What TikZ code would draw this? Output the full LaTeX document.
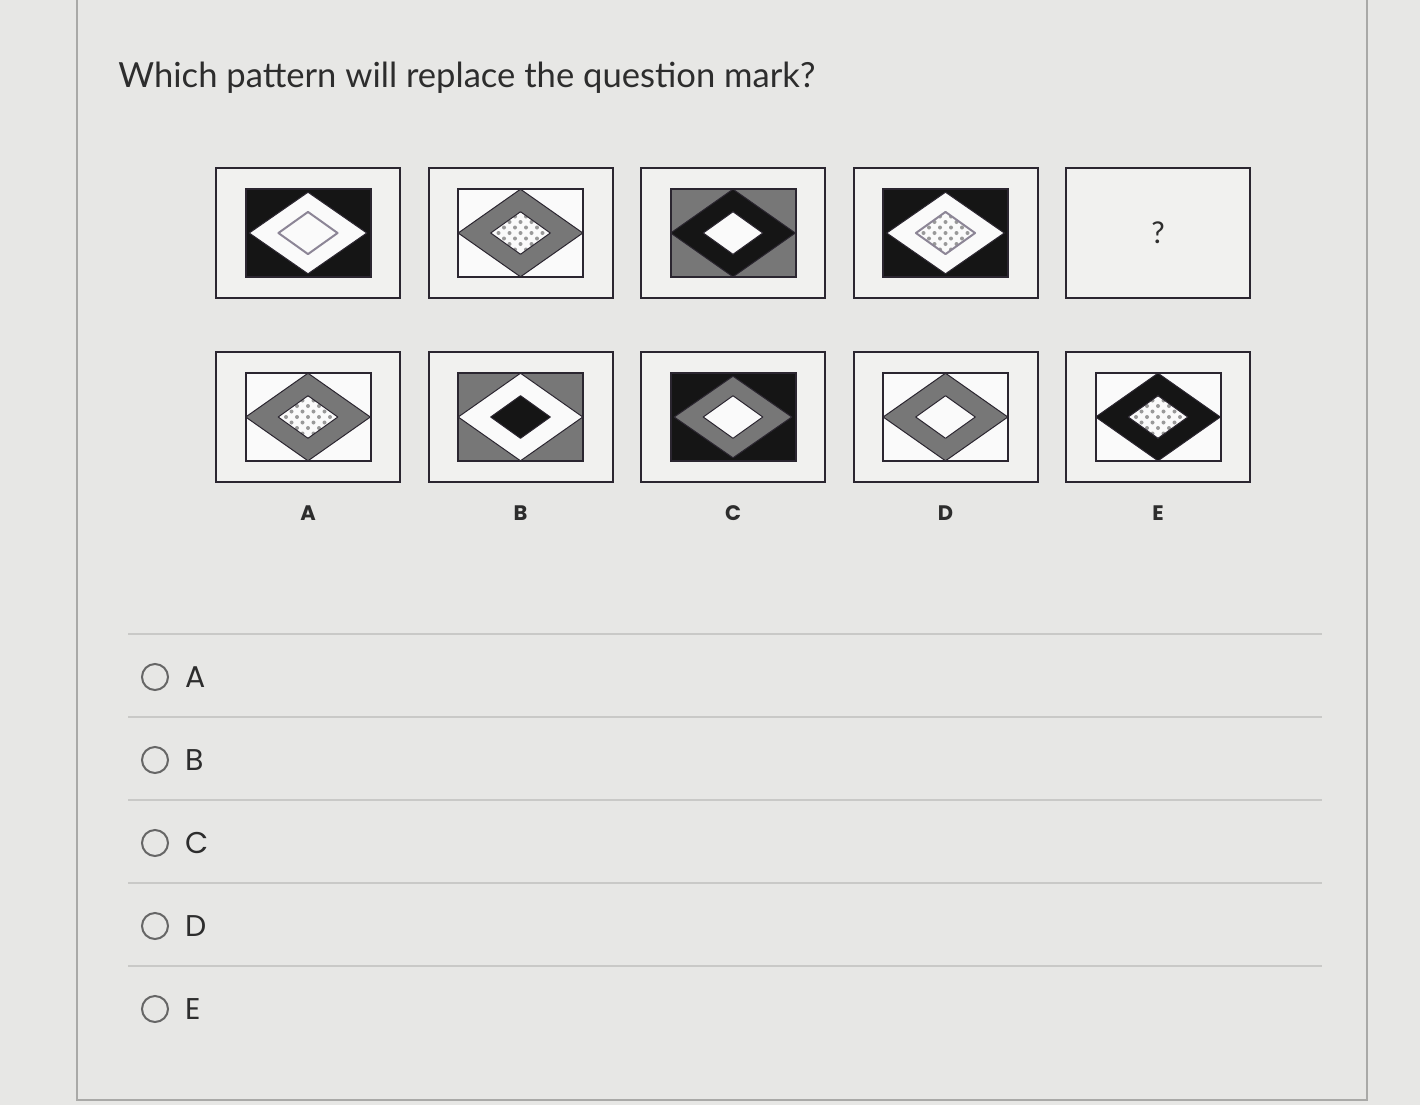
\documentclass[tikz,border=0pt]{standalone}
\usepackage{fontspec}
\setmainfont{Lato}
\newfontfamily\geofont{Poppins}
\usepackage{tikz}
\usetikzlibrary{shapes.geometric}
\usetikzlibrary{positioning}
\usepackage{xcolor}

\definecolor{pagebg}{HTML}{E7E7E5}
\definecolor{tilebg}{HTML}{F1F1EF}
\definecolor{paper}{HTML}{FAFAFA}
\definecolor{ink}{HTML}{151515}
\definecolor{midgray}{HTML}{777777}
\definecolor{frameline}{HTML}{2B2630}
\definecolor{outlinegray}{HTML}{8C8596}
\definecolor{dotgray}{HTML}{999999}
\definecolor{rule}{HTML}{C9C9C7}
\definecolor{panelline}{HTML}{A9A9A7}
\definecolor{radiogray}{HTML}{666666}
\definecolor{textcol}{HTML}{2D2D2D}

\tikzset{
 % outer card of one puzzle cell
 tile/.style={draw=frameline, line width=1pt, fill=tilebg,
  minimum width=92pt, minimum height=65pt, inner sep=0pt},
 % framed rectangle inside the card
 field/.style={draw=frameline, line width=1pt,
  minimum width=62.5pt, minimum height=44pt, inner sep=0pt},
 % diamonds
 rhomb/.style={diamond, draw=frameline, line width=0.5pt, line join=round,
  minimum width=62.5pt, minimum height=44pt, inner sep=0pt},
 inset/.style={rhomb, minimum width=59pt, minimum height=41pt},
 core/.style={rhomb, minimum width=30pt, minimum height=21.5pt},
 speckle/.style={core, fill=paper, path picture={
  \foreach \i in {-4,...,4} \foreach \j in {-4,...,4}
   \fill[dotgray] ([shift={({5.5*(\i+\j)},{5.5*(\i-\j)})}]path picture bounding box.center) circle (1pt);}},
 % texts
 tag/.style={font=\geofont\bfseries\fontsize{10.5}{12}\selectfont, text=textcol, inner sep=0pt},
 radio/.style={circle, draw=radiogray, line width=1pt, minimum size=13pt, inner sep=0pt},
 choice/.style={font=\geofont\fontsize{15}{18}\selectfont, text=textcol, inner sep=0pt},
 sepline/.style={draw=rule, line width=0.8pt},
 panel/.style={draw=panelline, line width=0.8pt}
}

\begin{document}
\begin{tikzpicture}[x=0.5pt,y=-0.5pt]

 % page
 \fill[pagebg] (0,0) rectangle (1420,1105);
 \useasboundingbox (0,0) rectangle (1420,1105);
 \draw[panel] (77,-5) -- (77,1100) -- (1367,1100) -- (1367,-5);

 % question
 \node[anchor=base west, inner sep=0pt, text=textcol,
  font=\fontsize{17.3}{21}\selectfont] (title) at (118,87)
  {Which pattern will replace the question mark?};

 % top row: the sequence
 \node[tile] (t1) at (308,233) {};
 \node[tile, right=13.25pt of t1] (t2) {};
 \node[tile, right=13.25pt of t2] (t3) {};
 \node[tile, right=13.25pt of t3] (t4) {};
 \node[tile, right=13.25pt of t4] (t5) {};

 % bottom row: the answers
 \node[tile, below=26pt of t1] (oA) {};
 \node[tile, right=13.25pt of oA] (oB) {};
 \node[tile, right=13.25pt of oB] (oC) {};
 \node[tile, right=13.25pt of oC] (oD) {};
 \node[tile, right=13.25pt of oD] (oE) {};

 % cell 1
 \node[field, fill=ink] (f1) at (t1) {};
 \node[inset, fill=paper] (g1) at (t1) {};
 \node[core, draw=outlinegray, line width=1pt] (c1) at (t1) {};
 % cell 2
 \node[field, fill=paper] (f2) at (t2) {};
 \node[rhomb, fill=midgray] (g2) at (t2) {};
 \node[speckle] (c2) at (t2) {};
 % cell 3
 \node[field, fill=midgray] (f3) at (t3) {};
 \node[rhomb, fill=ink] (g3) at (t3) {};
 \node[core, fill=paper] (c3) at (t3) {};
 % cell 4
 \node[field, fill=ink] (f4) at (t4) {};
 \node[inset, fill=paper] (g4) at (t4) {};
 \node[speckle, draw=outlinegray, line width=1pt] (c4) at (t4) {};
 % cell 5
 \node[text=textcol, font=\fontsize{15}{18}\selectfont] (qm) at (t5) {?};

 % answer A
 \node[field, fill=paper] (fA) at (oA) {};
 \node[rhomb, fill=midgray] (gA) at (oA) {};
 \node[speckle] (cA) at (oA) {};
 % answer B
 \node[field, fill=midgray] (fB) at (oB) {};
 \node[rhomb, fill=paper] (gB) at (oB) {};
 \node[core, fill=ink] (cB) at (oB) {};
 % answer C
 \node[field, fill=ink] (fC) at (oC) {};
 \node[inset, fill=midgray] (gC) at (oC) {};
 \node[core, fill=paper] (cC) at (oC) {};
 % answer D
 \node[field, fill=paper] (fD) at (oD) {};
 \node[rhomb, fill=midgray] (gD) at (oD) {};
 \node[core, fill=paper] (cD) at (oD) {};
 % answer E
 \node[field, fill=paper] (fE) at (oE) {};
 \node[rhomb, fill=ink] (gE) at (oE) {};
 \node[speckle] (cE) at (oE) {};

 % letters under the answers
 \foreach \l in {A,B,C,D,E}
  \node[tag, below=11pt of o\l] (l\l) {\l};

 % choice list
 \foreach \k in {0,...,4}
  \draw[sepline] (128,{634+83*\k}) -- (1322,{634+83*\k});
 \foreach \l [count=\k from 0] in {A,B,C,D,E} {
  \node[radio] (r\l) at (155,{677+83*\k}) {};
  \node[choice, right=8pt of r\l] (ch\l) {\l};
 }

\end{tikzpicture}
\end{document}
